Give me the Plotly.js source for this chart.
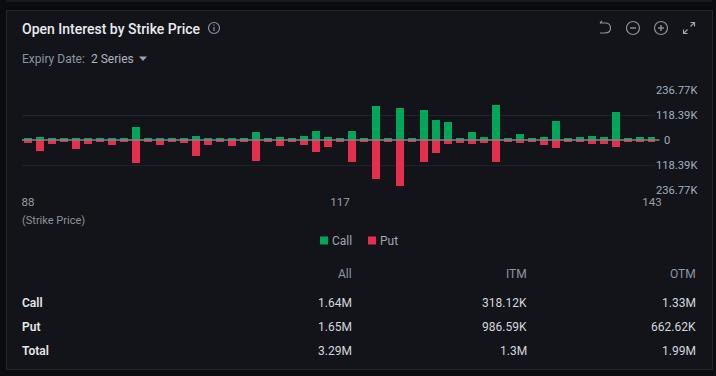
<!DOCTYPE html>
<html><head><meta charset="utf-8">
<script src="https://cdn.plot.ly/plotly-3.0.1.min.js"></script>
<style>
html,body{margin:0;padding:0;background:#0b0c0f;overflow:hidden}
#c{width:716px;height:376px}
.legend .legendpoints path{d:path("M4,4H-4V-4H4Z")}
.legend .legendpoints{transform:translate(0px,0)}
.legend .legendtext{transform:translate(-12px,0)}
</style></head><body><div id="c"></div>
<script>
const strikes=['88','89','90','91','92','93','95','96','97','98','99','100','101','102','103','104','105','106','107','108','109','110','111','112','113','115','117','118','119','120','121','122','123','124','125','126','127','128','129','130','131','132','133','134','135','136','137','138','139','140','141','142','143'];
const callK=[9.5,14.2,9.5,9.5,9.5,9.5,9.5,9.5,9.5,61.6,9.5,9.5,9.5,9.5,18.9,9.5,9.5,9.5,9.5,37.9,9.5,14.2,9.5,18.9,42.6,14.2,9.5,42.6,9.5,161,9.5,151.5,9.5,142,94.7,85.2,9.5,37.9,14.2,165.7,9.5,28.4,9.5,14.2,90,9.5,14.2,18.9,14.2,132.6,9.5,14.2,14.2];
const putK=[14.2,52.1,18.9,9.5,42.6,18.9,9.5,23.7,9.5,108.9,9.5,23.7,9.5,14.2,75.8,23.7,9.5,28.4,9.5,99.4,9.5,28.4,9.5,23.7,56.8,33.1,9.5,104.2,9.5,184.7,9.5,217.8,9.5,104.2,61.6,18.9,14.2,18.9,14.2,104.2,9.5,14.2,9.5,23.7,37.9,9.5,9.5,18.9,18.9,33.1,9.5,9.5,9.5];
const xTicks=['88','117','143'];
const yTickVals=[-236770,-118390,118390,236770];
const yTickText=['236.77K','118.39K','118.39K','236.77K'];
const tableHead=['All','ITM','OTM'];
const tableRows=['Call','Put','Total'];
const tableVals=[['1.64M','318.12K','1.33M'],['1.65M','986.59K','662.62K'],['3.29M','1.3M','1.99M']];

const L=22,R=655,T=89,B=191;
const px=x=>(x-L)/(R-L), py=y=>1-(y-T)/(B-T);
const FF='Roboto, sans-serif';
const ann=(text,x,y,size,color,anchor,weight)=>({text,x:px(x),y:py(y),xref:'paper',yref:'paper',showarrow:false,xanchor:anchor||'left',yanchor:'middle',borderpad:0,font:{family:FF,size,color,weight:weight||400}});
const pth=(d,color,width,fill)=>({type:'path',xref:'paper',yref:'paper',path:d.map(s=>typeof s==='string'?s:px(s[0])+','+py(s[1])).join(' '),line:{color,width:width},fillcolor:fill||'rgba(0,0,0,0)',layer:'above'});
const circ=(x,y,r,color)=>({type:'circle',xref:'paper',yref:'paper',x0:px(x-r),x1:px(x+r),y0:py(y+r),y1:py(y-r),line:{color,width:1.2},layer:'above'});
const seg=(x0,y0,x1,y1,color,w)=>({type:'line',xref:'paper',yref:'paper',x0:px(x0),x1:px(x1),y0:py(y0),y1:py(y1),line:{color,width:w||1.2},layer:'above'});

const ic='#8d929b';
const shapes=[
 {type:'rect',xref:'paper',yref:'paper',x0:px(6.5),x1:px(712.5),y0:py(10.5),y1:py(369.5),fillcolor:'#121419',line:{color:'#23262c',width:1},layer:'below'},
 seg(6,1,712,1,'#23262c',1),
 {type:'line',xref:'paper',yref:'y',x0:px(L),x1:px(659.5),y0:0,y1:0,line:{color:'#7f838b',width:1.3},layer:'above'},
 circ(214,28,5.5,ic),seg(214,27,214,31,ic,1.2),seg(214,24.6,214,25.8,ic,1.2),
 circ(633,28,6.5,ic),seg(630,28,636,28,ic,1.4),
 circ(661,28,6.5,ic),seg(658,28,664,28,ic,1.4),seg(661,25,661,31,ic,1.4),
 pth(['M',[600,23],'L',[605,23],'Q',[610.5,23],[610.5,28],'Q',[610.5,33],[605,33],'L',[600,33]],ic,1.2),
 pth(['M',[600,23],'L',[602,21]],ic,1.2),
 seg(687.5,29.5,683.5,33.5,'#a3a7ae',1.1),seg(690.5,26.5,694.5,22.5,'#a3a7ae',1.1),
 pth(['M',[683.5,29.5],'L',[683.5,33.5],'L',[687.5,33.5]],'#a3a7ae',1.1),pth(['M',[690.5,22.5],'L',[694.5,22.5],'L',[694.5,26.5]],'#a3a7ae',1.1),
 pth(['M',[139,56.5],'L',[147,56.5],'L',[143,61],'Z'],'#9ea3ab',0,'#9ea3ab')
];
const annotations=[
 ann('Expiry Date:',21,59,12,'#8d94a0'),
 ann('2 Series',90,59,12,'#aeb4bf'),
 ann('(Strike Price)',21,220,11,'#8d929b'),
 {text:'0',x:px(662),y:0,xref:'paper',yref:'y',showarrow:false,xanchor:'left',yanchor:'middle',font:{family:FF,size:11.2,color:'#a4aebe'}}
];
const colX=[353,528,697];
tableHead.forEach((h,i)=>annotations.push(ann(h,colX[i],274,12,'#8e95a3','right')));
const rowY=[303,327,351];
tableRows.forEach((r,j)=>{
 annotations.push(ann(r,21,rowY[j],12,'#e4e7ec','left',600));
 tableVals[j].forEach((v,i)=>annotations.push(ann(v,colX[i],rowY[j],12,'#d3d7de','right')));
});
const traces=[
 {type:'bar',name:'Call',x:strikes,y:callK.map(v=>v*1000),marker:{color:'#00a65a',line:{width:0}},hoverinfo:'skip'},
 {type:'bar',name:'Put',x:strikes,y:putK.map(v=>-v*1000),marker:{color:'#e62e4d',line:{width:0}},hoverinfo:'skip'}
];
const layout={
 width:716,height:376,autosize:false,
 margin:{l:L,r:716-R,t:T,b:376-B,pad:0},
 paper_bgcolor:'#0b0c0f',plot_bgcolor:'rgba(0,0,0,0)',
 barmode:'relative',bargap:0.33,
 title:{text:'Open Interest by Strike Price',xref:'container',yref:'container',x:22/716,y:1-29/376,xanchor:'left',yanchor:'middle',pad:{l:0,r:0,t:0,b:0},font:{family:FF,size:14,color:'#e8ebf0',weight:500}},
 xaxis:{type:'category',categoryorder:'array',categoryarray:strikes,range:[-0.5,52.25],tickmode:'array',tickvals:xTicks,ticktext:xTicks,ticklen:0,ticklabelstandoff:2,showgrid:false,showline:false,zeroline:false,tickangle:0,tickfont:{family:FF,size:11.5,color:'#9a9ea6'},fixedrange:true},
 yaxis:{side:'right',range:[-241505,241505],tickmode:'array',tickvals:yTickVals,ticktext:yTickText,ticklen:0,showgrid:true,gridcolor:'#1f2229',gridwidth:1,zeroline:false,showline:false,tickfont:{family:FF,size:11.2,color:'#a4aebe'},fixedrange:true},
 showlegend:true,
 legend:{orientation:'h',x:px(304),y:py(226),xanchor:'left',yanchor:'top',entrywidth:3,entrywidthmode:'pixels',itemwidth:30,font:{family:FF,size:12,color:'#9fa6b3'},bgcolor:'rgba(0,0,0,0)',itemclick:false,itemdoubleclick:false},
 shapes,annotations
};
Plotly.newPlot('c',traces,layout,{displayModeBar:false,staticPlot:true});
</script></body></html>
